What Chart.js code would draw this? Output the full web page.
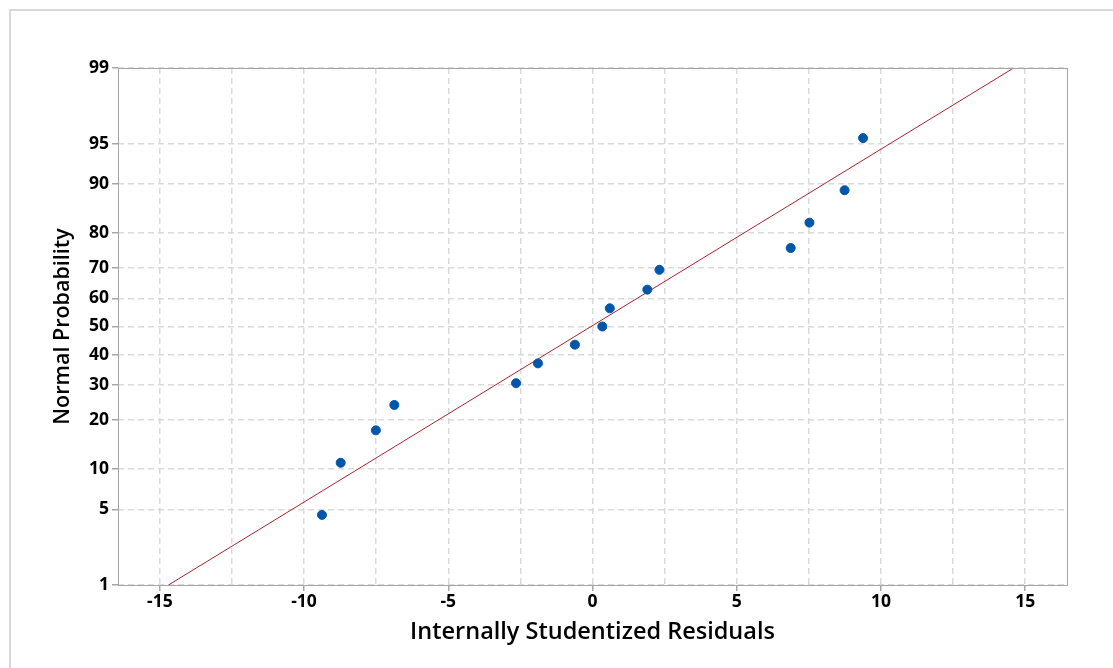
<!DOCTYPE html>
<html>
<head>
<meta charset="utf-8">
<script src="https://cdn.jsdelivr.net/npm/chart.js@4.4.1/dist/chart.umd.min.js"></script>
<style>
    html, body { margin: 0; padding: 0; background: #fff; overflow: hidden; }
    #marco { position: absolute; left: 9px; top: 9px; width: 1200px; height: 700px;
             border-left: 2px solid #d9d9d9; border-top: 2px solid #d9d9d9; }
    #stay_canvas { position: absolute; left: 0; top: 0; width: 1113px; height: 668px; }
</style>
</head>
<body>
<div id="marco"></div>
<div id="stay_canvas"><canvas id="probplot" width="1113" height="668"></canvas></div>
<script>
// residuals, with their plotted probability (%)
var residuals = [-9.38, -8.73, -7.51, -6.87, -2.65, -1.89, -0.61, 0.34, 0.60, 1.90, 2.32, 6.87, 7.52, 8.74, 9.38];
var probability = [4.5, 11.0, 17.5, 24.0, 30.5, 37.0, 43.5, 50.0, 56.5, 63.0, 69.5, 76.0, 82.5, 89.0, 95.5];

// fitted normal line, end points
var fitX = [-14.7, 14.6];
var fitP = [1, 99];

// axis ticks
var probTicks = [1, 5, 10, 20, 30, 40, 50, 60, 70, 80, 90, 95, 99];
var xTicks = [-15, -10, -5, 0, 5, 10, 15];
var xMin = -16.45, xMax = 16.45;

// inverse normal cdf (Acklam), p in (0,1)
function invNorm(p){
    var a = [-3.969683028665376e+01, 2.209460984245205e+02, -2.759285104469687e+02, 1.383577518672690e+02, -3.066479806614716e+01, 2.506628277459239e+00];
    var b = [-5.447609879822406e+01, 1.615858368580409e+02, -1.556989798598866e+02, 6.680131188771972e+01, -1.328068155288572e+01];
    var c = [-7.784894002430293e-03, -3.223964580411365e-01, -2.400758277161838e+00, -2.549732539343734e+00, 4.374664141464968e+00, 2.938163982698783e+00];
    var d = [7.784695709041462e-03, 3.224671290700398e-01, 2.445134137142996e+00, 3.754408661907416e+00];
    var plow = 0.02425, q, r;
    if (p < plow){
        q = Math.sqrt(-2*Math.log(p));
        return (((((c[0]*q+c[1])*q+c[2])*q+c[3])*q+c[4])*q+c[5]) / ((((d[0]*q+d[1])*q+d[2])*q+d[3])*q+1);
    }
    if (p > 1-plow){
        q = Math.sqrt(-2*Math.log(1-p));
        return -(((((c[0]*q+c[1])*q+c[2])*q+c[3])*q+c[4])*q+c[5]) / ((((d[0]*q+d[1])*q+d[2])*q+d[3])*q+1);
    }
    q = p - 0.5; r = q*q;
    return (((((a[0]*r+a[1])*r+a[2])*r+a[3])*r+a[4])*r+a[5])*q / (((((b[0]*r+b[1])*r+b[2])*r+b[3])*r+b[4])*r+1);
}
function pz(pct){ return invNorm(pct/100); }

var puntos = [];
for (var i = 0; i < residuals.length; i++){
    puntos.push({x: residuals[i], y: pz(probability[i])});
}
var linea = [];
for (var j = 0; j < fitX.length; j++){
    linea.push({x: fitX[j], y: pz(fitP[j])});
}

// draw the box round the plot area
var marcoPlugin = {
    id: 'marcoPlot',
    afterDraw: function(chart){
        var a = chart.chartArea, ctx = chart.ctx;
        ctx.save();
        ctx.strokeStyle = '#a6a6a6';
        ctx.lineWidth = 1;
        ctx.strokeRect(a.left + 0.5, a.top + 0.5, a.right - a.left, a.bottom - a.top);
        ctx.restore();
    }
};

var fuente = "'Open Sans', 'Noto Sans', sans-serif";

var ctx = document.getElementById('probplot').getContext('2d');
var chart = new Chart(ctx, {
    type: 'scatter',
    data: {
        datasets: [
            {
                label: 'Fit',
                type: 'line',
                data: linea,
                borderColor: '#a8262c',
                borderWidth: 1,
                pointRadius: 0,
                fill: false,
                order: 2
            },
            {
                label: 'Residuals',
                data: puntos,
                backgroundColor: '#0056a8',
                borderColor: '#0056a8',
                pointRadius: 4.5,
                pointHoverRadius: 4.5,
                order: 1
            }
        ]
    },
    options: {
        responsive: false,
        animation: false,
        events: [],
        layout: { padding: { left: 50, top: 68, right: 46, bottom: 22 } },
        plugins: {
            legend: { display: false },
            tooltip: { enabled: false }
        },
        scales: {
            x: {
                type: 'linear',
                min: xMin,
                max: xMax,
                afterBuildTicks: function(scale){
                    var t = [];
                    for (var k = 0; k < xTicks.length; k++){
                        t.push({value: xTicks[k]});
                        if (k < xTicks.length - 1) t.push({value: (xTicks[k] + xTicks[k+1]) / 2});
                    }
                    scale.ticks = t;
                },
                afterFit: function(scale){ scale.height = 61; },
                border: { display: false, dash: [6, 4] },
                grid: {
                    color: '#dadada',
                    lineWidth: 1.5,
                    tickLength: 6,
                    tickBorderDash: [],
                    tickColor: function(c){
                        return (xTicks.indexOf(c.tick.value) >= 0) ? '#a6a6a6' : 'rgba(0,0,0,0)';
                    }
                },
                ticks: {
                    autoSkip: false,
                    maxRotation: 0,
                    color: '#000',
                    padding: 1,
                    font: { family: fuente, size: 17.5, weight: 'bold' },
                    callback: function(v){ return (xTicks.indexOf(v) >= 0) ? String(v) : ''; }
                },
                title: {
                    display: true,
                    text: 'Internally Studentized Residuals',
                    color: '#000',
                    font: { family: fuente, size: 23.5, weight: '600' },
                    padding: { top: 0, bottom: 0 }
                }
            },
            y: {
                type: 'linear',
                min: pz(probTicks[0]),
                max: pz(probTicks[probTicks.length - 1]),
                afterBuildTicks: function(scale){
                    scale.ticks = probTicks.map(function(p){ return {value: pz(p)}; });
                },
                afterFit: function(scale){ scale.width = 68; },
                border: { display: false, dash: [6, 4] },
                grid: {
                    color: '#dadada',
                    lineWidth: 1.5,
                    tickLength: 6,
                    tickBorderDash: [],
                    tickColor: '#a6a6a6'
                },
                ticks: {
                    autoSkip: false,
                    color: '#000',
                    padding: 3,
                    font: { family: fuente, size: 17.5, weight: 'bold' },
                    callback: function(v){
                        for (var k = 0; k < probTicks.length; k++){
                            if (Math.abs(pz(probTicks[k]) - v) < 1e-6) return String(probTicks[k]);
                        }
                        return '';
                    }
                },
                title: {
                    display: true,
                    text: 'Normal Probability',
                    color: '#000',
                    font: { family: fuente, size: 21.5, weight: '600' },
                    padding: { top: 0, bottom: 0 }
                }
            }
        }
    },
    plugins: [marcoPlugin]
});
</script>
</body>
</html>
